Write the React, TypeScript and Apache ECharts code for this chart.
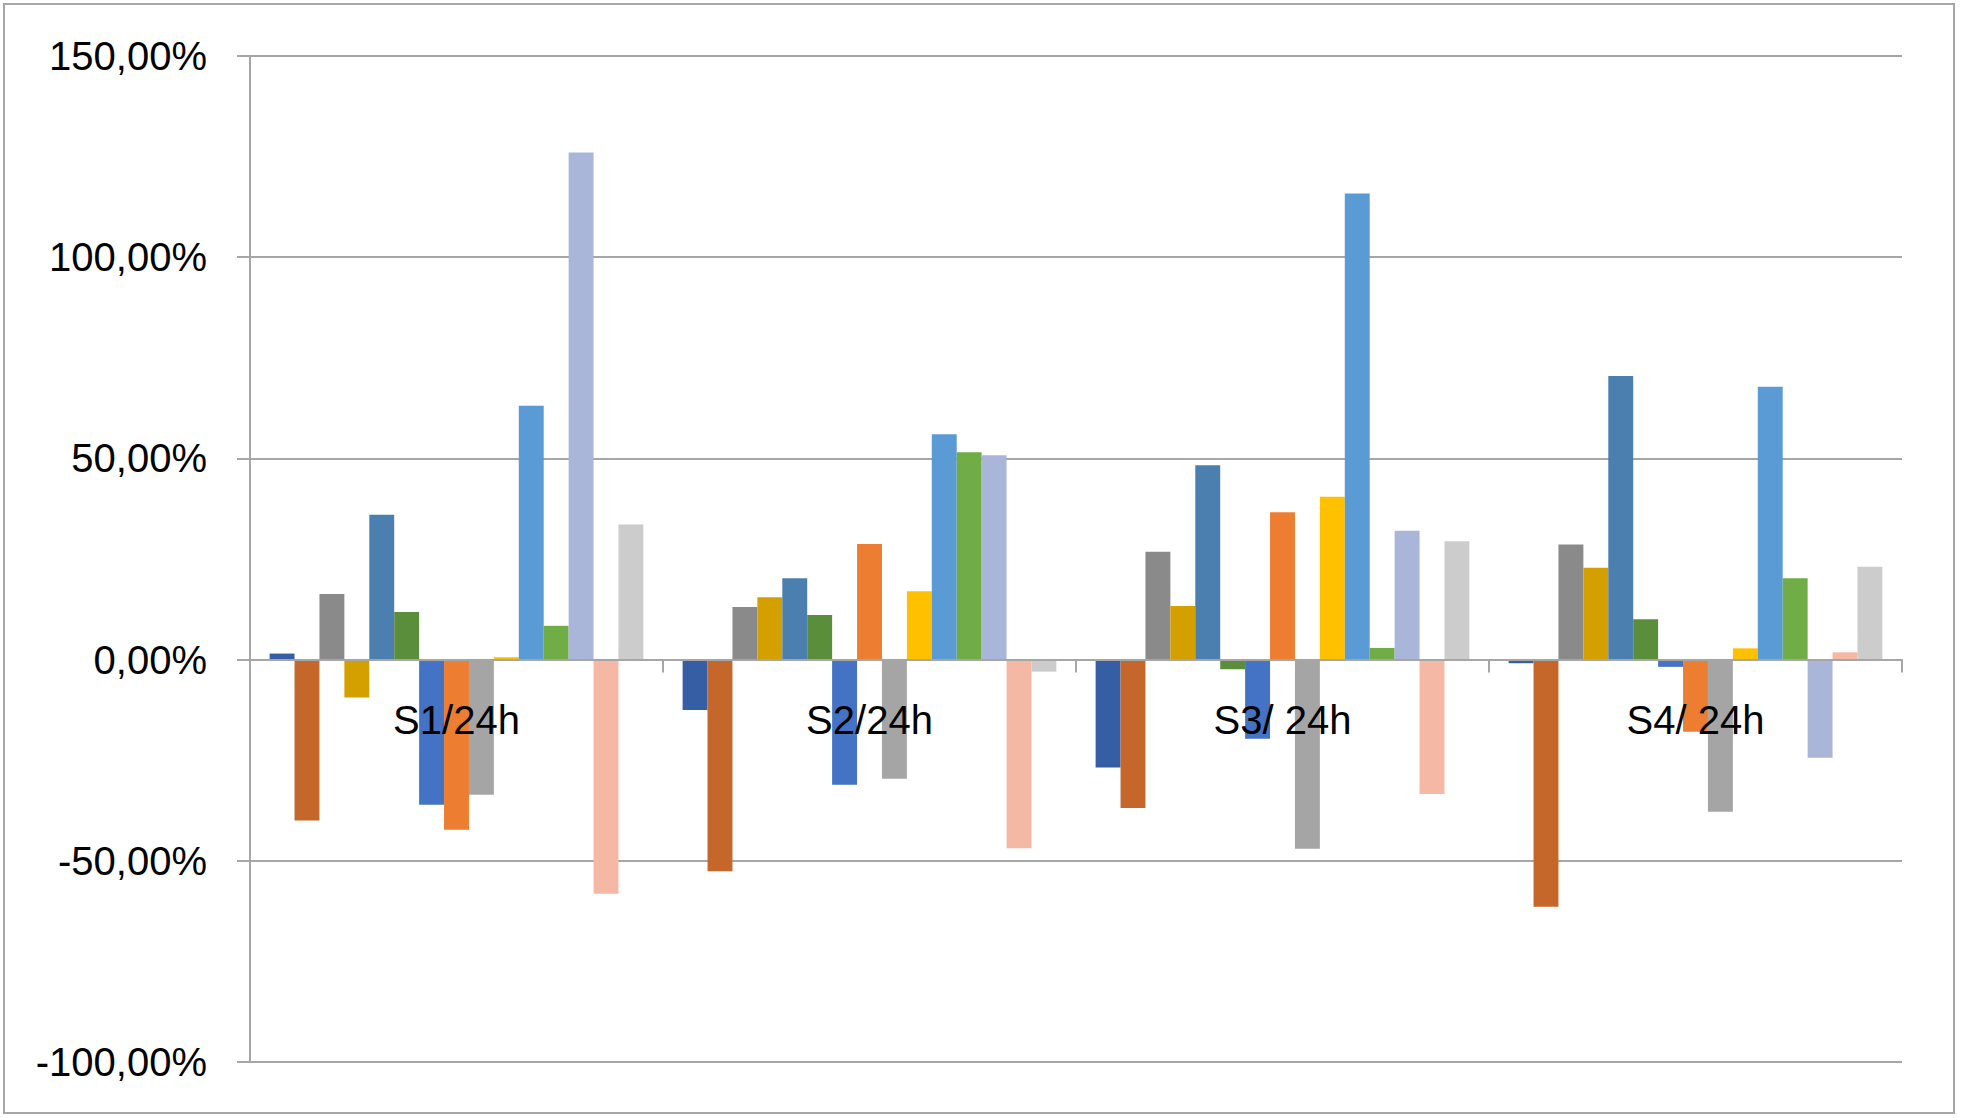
import React, { useEffect, useRef } from "react";
import * as echarts from "echarts";

const categories = ["S1/24h", "S2/24h", "S3/ 24h", "S4/ 24h"];

const seriesNames = [
  "Série 1", "Série 2", "Série 3", "Série 4", "Série 5",
  "Série 6", "Série 7", "Série 8", "Série 9", "Série 10",
  "Série 11", "Série 12", "Série 13", "Série 14", "Série 15",
];

const seriesColors = [
  "#355EA4", "#C5672B", "#8A8A8A", "#D4A000", "#4A7FB0",
  "#5B8E3B", "#4472C4", "#ED7D31", "#A5A5A5", "#FFC000",
  "#5B9BD5", "#70AD47", "#A9B6DA", "#F4B8A4", "#CCCCCC",
];

// values in percent, per series, across categories S1..S4
const s01 = [1.5, -12.5, -26.8, -0.9];
const s02 = [-40.0, -52.6, -36.9, -61.4];
const s03 = [16.3, 13.1, 26.8, 28.6];
const s04 = [-9.4, 15.5, 13.3, 22.8];
const s05 = [36.0, 20.2, 48.3, 70.5];
const s06 = [11.8, 11.1, -2.4, 10.0];
const s07 = [-36.1, -31.1, -19.7, -1.8];
const s08 = [-42.3, 28.7, 36.6, -17.9];
const s09 = [-33.6, -29.6, -47.0, -37.8];
const s10 = [0.6, 17.0, 40.5, 2.8];
const s11 = [63.1, 56.0, 115.8, 67.8];
const s12 = [8.4, 51.5, 2.9, 20.2];
const s13 = [126.0, 50.8, 32.0, -24.4];
const s14 = [-58.2, -46.9, -33.4, 1.8];
const s15 = [33.6, -3.0, 29.4, 23.1];

const seriesValues = [s01, s02, s03, s04, s05, s06, s07, s08, s09, s10, s11, s12, s13, s14, s15];

const yMin = -100;
const yMax = 150;
const yStep = 50;

export default function App() {
  const ref = useRef<HTMLDivElement>(null);

  useEffect(() => {
    if (!ref.current) return;
    const chart = echarts.init(ref.current, null, { renderer: "svg" });
    const gray = "#A6A6A6";
    const font = "'Liberation Sans', Arial, sans-serif";
    const top = 56;
    const bottom = 56;
    const plotH = 1118 - top - bottom;
    // distance from the bottom of the plot up to the zero line, derived from the axis range
    const zeroOffset = (plotH * (0 - yMin)) / (yMax - yMin);
    chart.setOption({
      animation: false,
      backgroundColor: "#FFFFFF",
      grid: { left: 250, right: 59, top, bottom, containLabel: false },
      graphic: [
        {
          type: "rect",
          shape: { x: 4, y: 4, width: 1950, height: 1109 },
          style: { fill: "none", stroke: gray, lineWidth: 2 },
          silent: true,
        },
      ],
      xAxis: {
        type: "category",
        data: categories,
        position: "bottom",
        offset: -zeroOffset,
        z: 5,
        axisLine: { show: true, onZero: false, lineStyle: { color: gray, width: 2 } },
        axisTick: { show: true, length: 13, lineStyle: { color: gray, width: 2 } },
        axisLabel: { color: "#000000", fontSize: 40, fontFamily: font, margin: 40 },
        splitLine: { show: false },
      },
      yAxis: {
        type: "value",
        min: yMin,
        max: yMax,
        interval: yStep,
        axisLine: { show: true, lineStyle: { color: gray, width: 2 } },
        axisTick: { show: true, length: 13, lineStyle: { color: gray, width: 2 } },
        axisLabel: {
          color: "#000000",
          fontSize: 40,
          fontFamily: font,
          margin: 43,
          formatter: (v: number) => v.toFixed(2).replace(".", ",") + "%",
        },
        splitLine: { show: true, lineStyle: { color: gray, width: 2 } },
      },
      series: seriesValues.map((vals, i) => ({
        name: seriesNames[i],
        type: "bar",
        data: vals,
        barGap: "0%",
        barCategoryGap: "9.5%",
        itemStyle: { color: seriesColors[i] },
      })),
    });
    return () => chart.dispose();
  }, []);

  return (
    <div
      ref={ref}
      style={{ position: "fixed", left: 0, top: 0, width: 1961, height: 1118, background: "#fff" }}
    />
  );
}
